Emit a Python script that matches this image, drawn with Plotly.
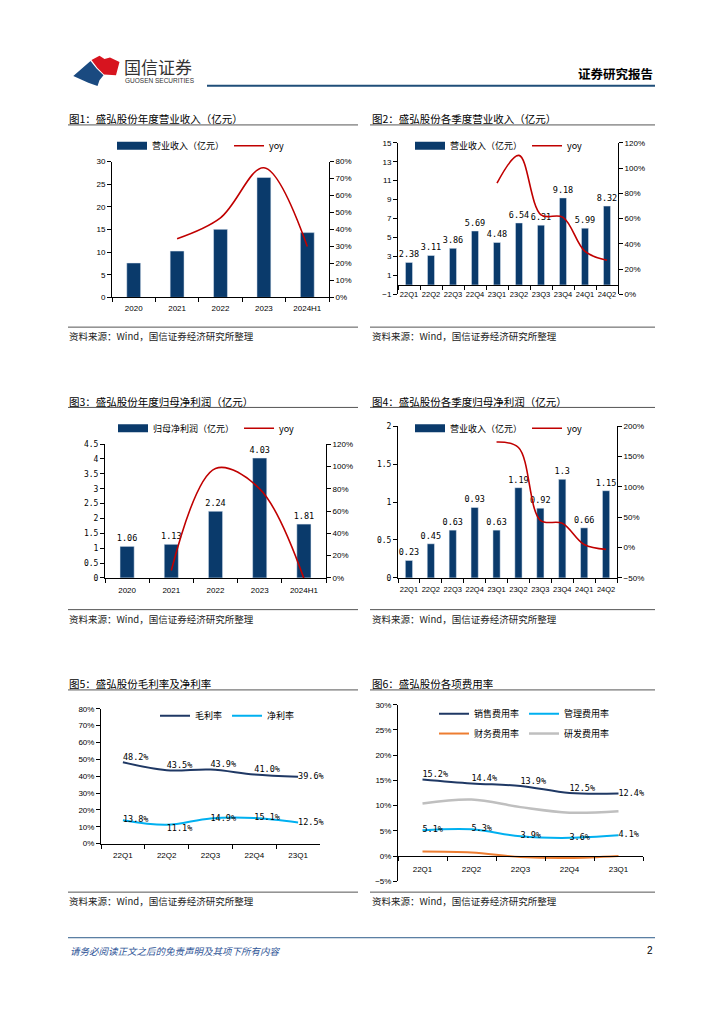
import plotly.graph_objects as go

W, H = 724, 1024
def px(x): return x / W
def py(y): return 1 - y / H

NAVY = "#0a3a6b"
RED = "#c00000"
DARKLINE = "#1f3864"
LIGHTBLUE = "#00b0f0"
ORANGE = "#ed7d31"
GRAY = "#bfbfbf"
CJK = "Noto Sans CJK SC"
LAT = "Liberation Sans"
MONO = "DejaVu Sans Mono"

# ---------------- data ----------------
years = ["2020", "2021", "2022", "2023", "2024H1"]
rev_year = [7.6, 10.23, 15.03, 26.5, 14.31]
rev_year_yoy = [0.346, 0.469, 0.764, 0.30]          # from 2021

quarters = ["22Q1", "22Q2", "22Q3", "22Q4", "23Q1", "23Q2", "23Q3", "23Q4", "24Q1", "24Q2"]
rev_q = [2.38, 3.11, 3.86, 5.69, 4.48, 6.54, 6.31, 9.18, 5.99, 8.32]
rev_q_yoy = [0.88, 1.10, 0.63, 0.61, 0.34, 0.27]     # from 23Q1

np_year = [1.06, 1.13, 2.24, 4.03, 1.81]
np_year_yoy = [0.066, 0.982, 0.799, -0.005]          # from 2021

np_q = [0.23, 0.45, 0.63, 0.93, 0.63, 1.19, 0.92, 1.3, 0.66, 1.15]
np_q_yoy = [1.74, 1.65, 0.45, 0.40, 0.05, -0.03]     # from 23Q1

q5 = ["22Q1", "22Q2", "22Q3", "22Q4", "23Q1"]
gross_margin = [0.482, 0.435, 0.439, 0.410, 0.396]
net_margin = [0.138, 0.111, 0.149, 0.151, 0.125]

sell_rate = [0.152, 0.144, 0.139, 0.125, 0.124]
admin_rate = [0.051, 0.053, 0.039, 0.036, 0.041]
fin_rate = [0.009, 0.007, -0.002, -0.004, 0.000]
rd_rate = [0.104, 0.112, 0.097, 0.086, 0.089]

# ---------------- helpers ----------------
def axis(**kw):
    d = dict(showgrid=False, zeroline=False, showline=True, linecolor="#000", linewidth=1,
             ticks="outside", ticklen=4, tickcolor="#000", tickwidth=1,
             tickfont=dict(family=LAT, size=8, color="#000"), fixedrange=True)
    d.update(kw)
    return d

def cat_axis(cats, **kw):
    return axis(type="category", categoryorder="array", categoryarray=cats,
                range=[-0.5, len(cats) - 0.5], tickson="boundaries", tickangle=0, **kw)

LBL = dict(family=MONO, size=8.5, color="#000")
QFONT = dict(family=LAT, size=7.5, color="#000")

def leg(x, y):
    return dict(x=px(x), y=py(y), xanchor="left", yanchor="middle", orientation="h",
                bgcolor="rgba(0,0,0,0)", font=dict(family=CJK, size=9, color="#000"),
                itemwidth=30, tracegroupgap=0, traceorder="normal")

fig = go.Figure()

def legend_swatch(name, legend, color, width=8):
    # legend-only proxy giving the wide rectangular bar swatch of the original
    fig.add_trace(go.Scatter(x=[None], y=[None], mode="lines", xaxis="x", yaxis="y",
                             line=dict(color=color, width=width), name=name, legend=legend,
                             hoverinfo="skip"))

# ---------- Chart 1 ----------
fig.add_trace(go.Bar(x=years, y=rev_year, xaxis="x", yaxis="y", marker_color=NAVY, width=0.32,
                     name="营业收入（亿元）", showlegend=False))
legend_swatch("营业收入（亿元）", "legend", NAVY)
fig.add_trace(go.Scatter(x=years[1:], y=rev_year_yoy, xaxis="x", yaxis="y2", mode="lines",
                         line=dict(color=RED, width=1.6, shape="spline", smoothing=1),
                         name="yoy", legend="legend"))

# ---------- Chart 2 ----------
fig.add_trace(go.Bar(x=quarters, y=rev_q, xaxis="x2", yaxis="y3", marker_color=NAVY, width=0.32,
                     text=[f"{v:g}" for v in rev_q], textposition="outside", textfont=LBL,
                     constraintext="none", cliponaxis=False, textangle=0,
                     name="营业收入（亿元）", showlegend=False))
legend_swatch("营业收入（亿元）", "legend2", NAVY)
fig.add_trace(go.Scatter(x=quarters[4:], y=rev_q_yoy, xaxis="x2", yaxis="y4", mode="lines",
                         line=dict(color=RED, width=1.6, shape="spline", smoothing=1),
                         name="yoy", legend="legend2"))

# ---------- Chart 3 ----------
fig.add_trace(go.Bar(x=years, y=np_year, xaxis="x3", yaxis="y5", marker_color=NAVY, width=0.32,
                     text=[f"{v:g}" for v in np_year], textposition="outside", textfont=LBL,
                     constraintext="none", cliponaxis=False, textangle=0,
                     name="归母净利润（亿元）", showlegend=False))
legend_swatch("归母净利润（亿元）", "legend3", NAVY)
fig.add_trace(go.Scatter(x=years[1:], y=np_year_yoy, xaxis="x3", yaxis="y6", mode="lines",
                         line=dict(color=RED, width=1.6, shape="spline", smoothing=1),
                         name="yoy", legend="legend3"))

# ---------- Chart 4 ----------
fig.add_trace(go.Bar(x=quarters, y=np_q, xaxis="x4", yaxis="y7", marker_color=NAVY, width=0.33,
                     text=[f"{v:g}" for v in np_q], textposition="outside", textfont=LBL,
                     constraintext="none", cliponaxis=False, textangle=0,
                     name="营业收入（亿元）", showlegend=False))
legend_swatch("营业收入（亿元）", "legend4", NAVY)
fig.add_trace(go.Scatter(x=quarters[4:], y=np_q_yoy, xaxis="x4", yaxis="y8", mode="lines",
                         line=dict(color=RED, width=1.6, shape="spline", smoothing=1),
                         name="yoy", legend="legend4"))

# ---------- Chart 5 ----------
fig.add_trace(go.Scatter(x=q5, y=gross_margin, xaxis="x5", yaxis="y9", mode="lines+text",
                         line=dict(color=DARKLINE, width=2, shape="spline", smoothing=1),
                         text=[f"{v*100:.1f}%" for v in gross_margin],
                         textposition=["top right"] * 4 + ["middle right"], textfont=LBL,
                         cliponaxis=False, name="毛利率", legend="legend5"))
fig.add_trace(go.Scatter(x=q5, y=net_margin, xaxis="x5", yaxis="y9", mode="lines+text",
                         line=dict(color=LIGHTBLUE, width=2, shape="spline", smoothing=1),
                         text=[f"{v*100:.1f}%" for v in net_margin],
                         textposition=["middle right", "bottom right", "middle right",
                                       "middle right", "middle right"], textfont=LBL,
                         cliponaxis=False, name="净利率", legend="legend5"))

# ---------- Chart 6 ----------
fig.add_trace(go.Scatter(x=q5, y=sell_rate, xaxis="x6", yaxis="y10", mode="lines+text",
                         line=dict(color=DARKLINE, width=2, shape="spline", smoothing=1),
                         text=[f"{v*100:.1f}%" for v in sell_rate],
                         textposition=["top right"] * 4 + ["middle right"], textfont=LBL,
                         cliponaxis=False, name="销售费用率", legend="legend6"))
fig.add_trace(go.Scatter(x=q5, y=admin_rate, xaxis="x6", yaxis="y10", mode="lines+text",
                         line=dict(color=LIGHTBLUE, width=2, shape="spline", smoothing=1),
                         text=[f"{v*100:.1f}%" for v in admin_rate],
                         textposition="middle right", textfont=LBL,
                         cliponaxis=False, name="管理费用率", legend="legend6"))
fig.add_trace(go.Scatter(x=q5, y=fin_rate, xaxis="x6", yaxis="y10", mode="lines",
                         line=dict(color=ORANGE, width=2, shape="spline", smoothing=1),
                         cliponaxis=False, name="财务费用率", legend="legend7"))
fig.add_trace(go.Scatter(x=q5, y=rd_rate, xaxis="x6", yaxis="y10", mode="lines",
                         line=dict(color=GRAY, width=2.5, shape="spline", smoothing=1),
                         cliponaxis=False, name="研发费用率", legend="legend7"))

# ---------------- axes ----------------
def zero_pos(top, bottom, lo, hi):
    return py(bottom) + (py(top) - py(bottom)) * (0 - lo) / (hi - lo)

c2_rng = [-1, 15]
c6_rng = [-0.05, 0.30]

layout_axes = dict(
    # chart 1
    xaxis=cat_axis(years, domain=[px(112), px(329)], anchor="y", ticklabelstandoff=3),
    yaxis=axis(domain=[py(296), py(159)], anchor="x", range=[0, 30], dtick=5, tick0=0),
    yaxis2=axis(overlaying="y", side="right", anchor="x", range=[0, 0.8], dtick=0.1, tickformat=".0%"),
    # chart 2
    xaxis2=cat_axis(quarters, domain=[px(398), px(618)], anchor="free",
                    position=zero_pos(140, 293, *c2_rng), ticklabelstandoff=2, tickfont=QFONT),
    yaxis3=axis(domain=[py(293), py(140)], anchor="x2", range=c2_rng, dtick=2, tick0=-1),
    yaxis4=axis(overlaying="y3", side="right", anchor="x2", range=[0, 1.2], dtick=0.2, tickformat=".0%"),
    # chart 3
    xaxis3=cat_axis(years, domain=[px(105), px(326)], anchor="y5", ticklabelstandoff=4),
    yaxis5=axis(domain=[py(579), py(444)], anchor="x3", range=[0, 4.5], dtick=0.5, tick0=0,
                tickfont=dict(family=MONO, size=8, color="#000")),
    yaxis6=axis(overlaying="y5", side="right", anchor="x3", range=[0, 1.2], dtick=0.2, tickformat=".0%"),
    # chart 4
    xaxis4=cat_axis(quarters, domain=[px(398), px(617)], anchor="y7", ticklabelstandoff=4,
                    tickfont=QFONT),
    yaxis7=axis(domain=[py(579), py(426)], anchor="x4", range=[0, 2], dtick=0.5, tick0=0,
                tickfont=dict(family=MONO, size=8, color="#000")),
    yaxis8=axis(overlaying="y7", side="right", anchor="x4", range=[-0.5, 2], dtick=0.5, tickformat=".0%"),
    # chart 5
    xaxis5=cat_axis(q5, domain=[px(101), px(320)], anchor="y9", ticklabelstandoff=4),
    yaxis9=axis(domain=[py(847), py(711)], anchor="x5", range=[0, 0.8], dtick=0.1, tickformat=".0%"),
    # chart 6
    xaxis6=cat_axis(q5, domain=[px(398), px(643)], anchor="free",
                    position=zero_pos(707, 885, *c6_rng), ticklabelstandoff=5),
    yaxis10=axis(domain=[py(885), py(707)], anchor="x6", range=c6_rng, dtick=0.05, tick0=0,
                 tickformat=".0%"),
)

# ---------------- decorations ----------------
shapes = []
def hline(x0, x1, y, color="#555", width=1):
    shapes.append(dict(type="line", xref="paper", yref="paper", x0=px(x0), x1=px(x1),
                       y0=py(y), y1=py(y), line=dict(color=color, width=width)))

hline(207, 655, 82.5, "#1f4e79", 2.2)   # header rule
hline(68, 655, 942, "#2e5c8a", 1)       # footer rule
for yt, ys in [(122, 326), (407, 611), (692, 896)]:
    hline(68, 358, yt); hline(370, 655, yt)
    hline(68, 358, ys); hline(370, 655, ys)

def poly(points, color):
    d = "M " + " L ".join(f"{px(x):.5f},{py(y):.5f}" for x, y in points) + " Z"
    shapes.append(dict(type="path", xref="paper", yref="paper", path=d,
                       fillcolor=color, line=dict(width=0)))

poly([(91.5, 56.5), (99.5, 52.3), (104.5, 55.5), (110, 54), (119.5, 58.5), (116, 71.8),
      (104, 71), (97.5, 64.5)], "#d7141f")
poly([(73.3, 72.7), (90.5, 57.5), (96.5, 65), (103.5, 72), (99.5, 77), (97.5, 82.7),
      (88.3, 79.5)], "#1a4a80")

annotations = []
def text(t, x, y, size, family=CJK, color="#000", xanchor="left"):
    annotations.append(dict(text=t, x=px(x), y=py(y), xref="paper", yref="paper",
                            xanchor=xanchor, yanchor="middle", showarrow=False,
                            font=dict(family=family, size=size, color=color)))

text("国信证券", 122, 63, 17, color="#333")
text("GUOSEN SECURITIES", 123, 77.5, 6.5, family=LAT, color="#333")
text("<b>证券研究报告</b>", 655, 70, 12.5, xanchor="right")

titles = [("图1：盛弘股份年度营业收入（亿元）", 67, 116),
          ("图2：盛弘股份各季度营业收入（亿元）", 370, 116),
          ("图3：盛弘股份年度归母净利润（亿元）", 67, 401),
          ("图4：盛弘股份各季度归母净利润（亿元）", 370, 401),
          ("图5：盛弘股份毛利率及净利率", 67, 686),
          ("图6：盛弘股份各项费用率", 370, 686)]
for t, x, y in titles:
    text(t, x, y, 10.5)
for y in (335, 620, 905):
    text("资料来源：Wind，国信证券经济研究所整理", 67, y, 9.5, color="#222")
    text("资料来源：Wind，国信证券经济研究所整理", 370, y, 9.5, color="#222")

text("<i>请务必阅读正文之后的免责声明及其项下所有内容</i>", 68, 955, 9.5, color="#2f5597")
text("2", 655, 955, 10, family=LAT, xanchor="right")

fig.update_layout(
    width=W, height=H, margin=dict(l=0, r=0, t=0, b=0),
    paper_bgcolor="white", plot_bgcolor="white",
    shapes=shapes, annotations=annotations, showlegend=True,
    legend=leg(112, 143), legend2=leg(410, 143), legend3=leg(113, 428),
    legend4=leg(410, 428), legend5=leg(155, 718), legend6=leg(434, 716),
    legend7=leg(434, 736),
    **layout_axes,
)

fig.write_html("out.html", config={"displayModeBar": False, "staticPlot": True},
               post_script="document.body.style.margin='0';document.body.style.overflow='hidden';")
